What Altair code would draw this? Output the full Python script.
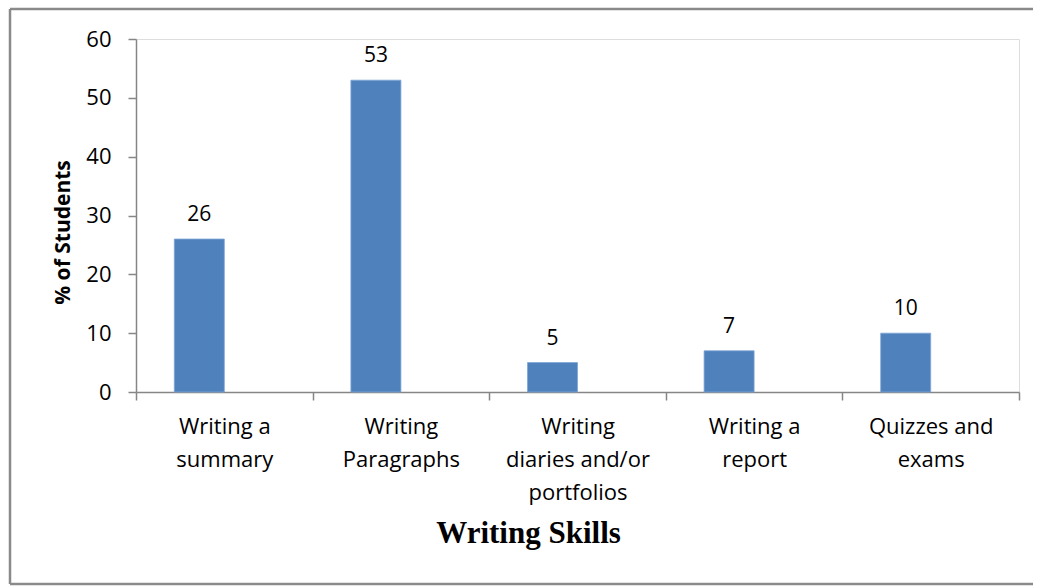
import altair as alt
import pandas as pd

skills = [
    "Writing a|summary",
    "Writing|Paragraphs",
    "Writing|diaries and/or|portfolios",
    "Writing a|report",
    "Quizzes and|exams",
]
percent = [26, 53, 5, 7, 10]
series = ["% of Students", "(blank)"]

df = pd.DataFrame({"skill": skills, "pct": percent, "series": series[0]})

FONT = "Open Sans"
W, H = 883, 353
GRAY = "#868686"

x_enc = alt.X(
    "skill:N",
    sort=skills,
    scale=alt.Scale(paddingInner=0, paddingOuter=0),
    axis=alt.Axis(
        title="Writing Skills",
        titleFont="Liberation Serif",
        titleFontSize=31,
        titleFontWeight="bold",
        titleColor="black",
        titleX=392,
        titleY=141,
        titleBaseline="middle",
        labelExpr="split(datum.label, '|')",
        labelAngle=0,
        labelFont=FONT,
        labelFontSize=22,
        labelColor="black",
        labelLineHeight=33,
        labelPadding=16,
        labelBaseline="top",
        tickBand="extent",
        tickSize=8,
        tickColor=GRAY,
        domainColor=GRAY,
        domainWidth=1.5,
        tickWidth=1.5,
    ),
)
xoff = alt.XOffset(
    "series:N",
    scale=alt.Scale(domain=series, paddingInner=0, paddingOuter=0.766),
)
y_enc = alt.Y(
    "pct:Q",
    scale=alt.Scale(domain=[0, 60], nice=False),
    axis=alt.Axis(
        title="% of Students",
        titleFont=FONT,
        titleFontSize=21,
        titleFontWeight="bold",
        titleColor="black",
        titleX=-73,
        titleY=193,
        titleAngle=-90,
        titleAlign="center",
        titleBaseline="middle",
        values=[0, 10, 20, 30, 40, 50, 60],
        grid=False,
        labelFont=FONT,
        labelFontSize=22,
        labelColor="black",
        labelPadding=17,
        tickSize=8,
        tickColor=GRAY,
        domainColor=GRAY,
        domainWidth=1.5,
        tickWidth=1.5,
    ),
)

# outer frame: left, top and bottom edges, open on the right
edge = alt.Chart(pd.DataFrame({"k": [0]}))
frame_style = dict(color="#8a8a8a", strokeWidth=2.5)
left_edge = edge.mark_rule(**frame_style).encode(
    x=alt.value(-126), y=alt.value(-30), y2=alt.value(545)
)
top_edge = edge.mark_rule(**frame_style).encode(
    x=alt.value(-126), x2=alt.value(W + 14), y=alt.value(-30)
)
bottom_edge = edge.mark_rule(**frame_style).encode(
    x=alt.value(-126), x2=alt.value(W + 14), y=alt.value(545)
)

bars = alt.Chart(df).mark_bar(color="#4F81BD", stroke="#7EA6D6", strokeWidth=0.8).encode(
    x=x_enc, xOffset=xoff, y=y_enc
)

labels = alt.Chart(df).mark_text(
    font=FONT, fontSize=21, color="black", baseline="middle", dy=-24
).encode(
    x=alt.X("skill:N", sort=skills), xOffset="series:N", y="pct:Q", text="pct:Q"
)

chart = (
    alt.layer(left_edge, top_edge, bottom_edge, bars, labels)
    .properties(
        width=W,
        height=H,
        padding={"left": 136, "top": 39, "right": 14, "bottom": 194},
        autosize=alt.AutoSizeParams(type="none"),
    )
    .configure_view(stroke=None)
    .configure(background="white")
)

chart.save("out.html", embed_options={"renderer": "svg", "actions": False})
